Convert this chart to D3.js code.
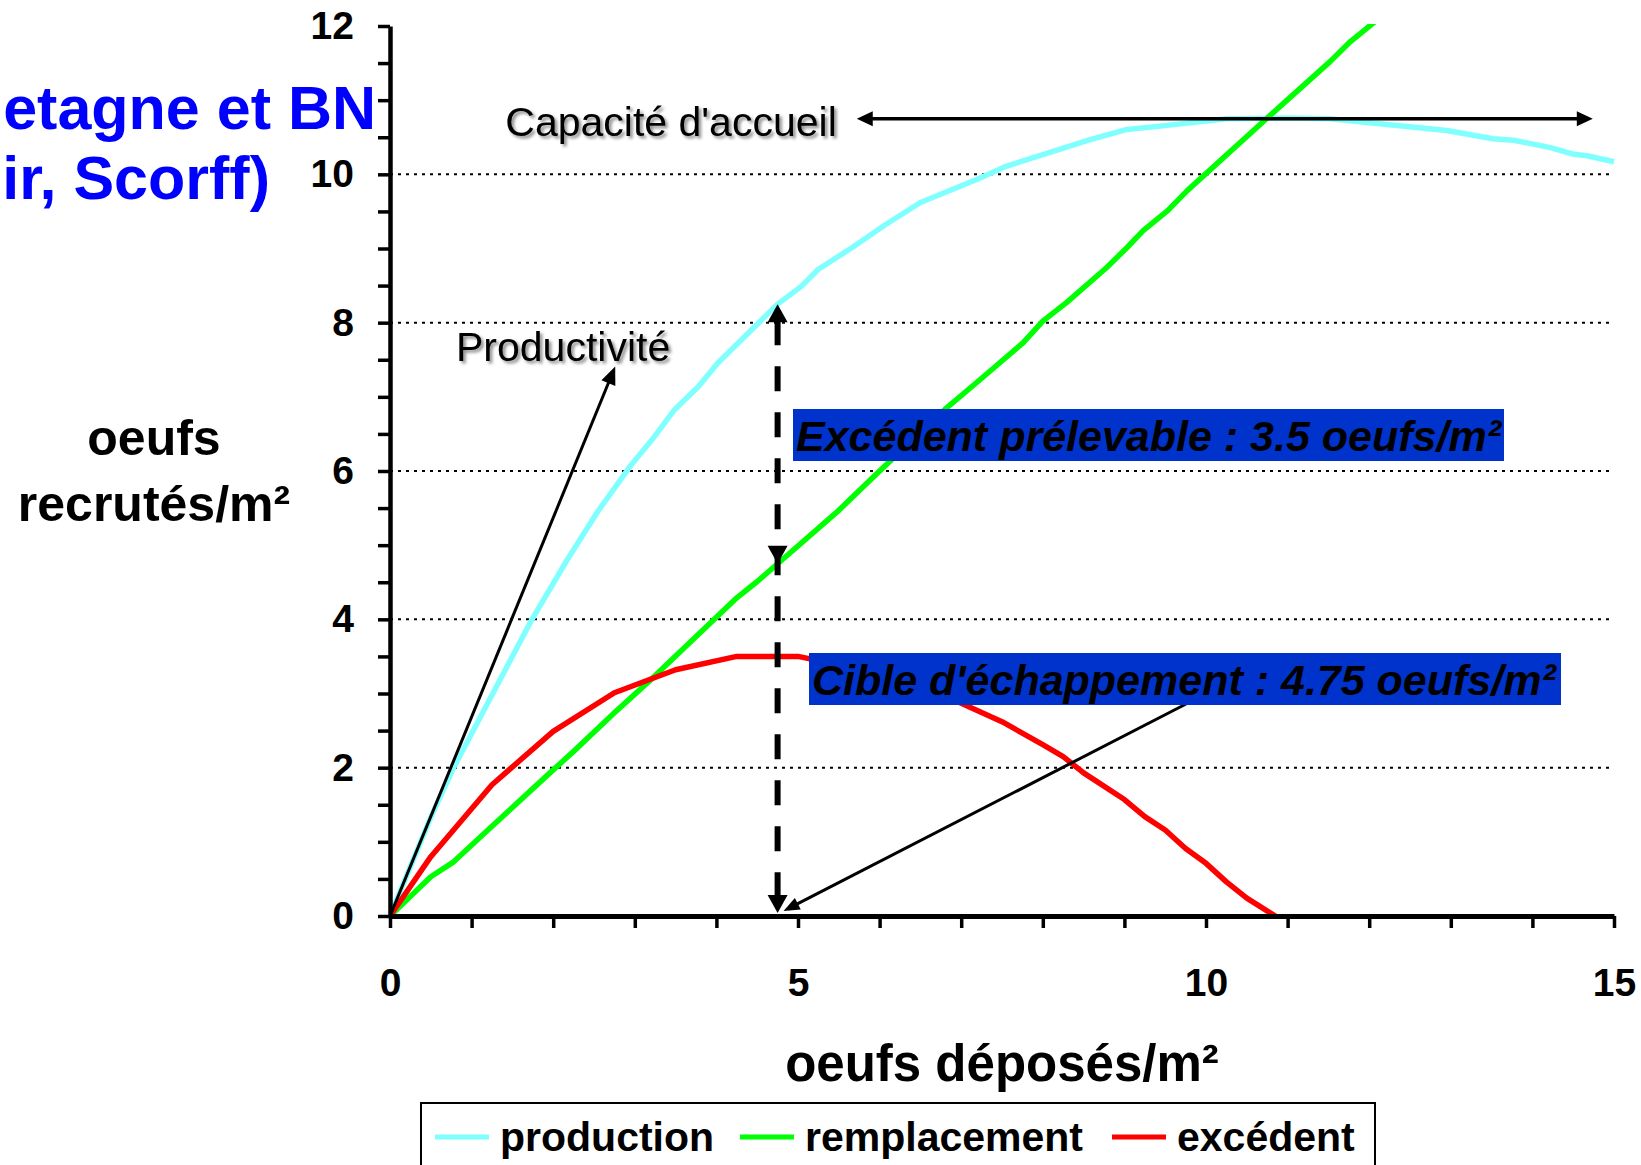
<!DOCTYPE html>
<html>
<head>
<meta charset="utf-8">
<script src="https://cdn.jsdelivr.net/npm/d3@7"></script>
<style>
  body { margin: 0; background: #ffffff; }
  svg { display: block; font-family: "Liberation Sans", Arial, sans-serif; }
</style>
</head>
<body>
<svg id="chart" width="1641" height="1165"></svg>
<script>
// Stock–recruitment curves: eggs recruited per m² against eggs deposited per m²
const productionX = [0, 0.5, 0.78, 1.25, 1.74, 2.17, 2.55, 2.94, 3.21, 3.49, 3.78, 4.02, 4.27, 4.75, 5.04, 5.25, 5.66, 6.07, 6.5, 7.19, 7.53, 8.04, 8.56, 9.01, 9.52, 10.25, 11.0, 11.52, 12.25, 12.95, 13.52, 13.77, 14.22, 14.51, 14.67, 15];
const productionY = [0, 1.33, 2.0, 2.98, 4.0, 4.8, 5.46, 6.06, 6.42, 6.83, 7.14, 7.46, 7.73, 8.25, 8.49, 8.72, 9.01, 9.32, 9.62, 9.93, 10.1, 10.28, 10.46, 10.6, 10.66, 10.75, 10.76, 10.75, 10.67, 10.59, 10.48, 10.46, 10.36, 10.27, 10.25, 10.17];

const remplacementX = [0, 0.5, 0.78, 1.25, 2.0, 2.25, 2.75, 3.17, 4.25, 4.5, 4.75, 5.5, 6.0, 6.8, 7.23, 7.76, 8.0, 8.29, 8.78, 9.03, 9.23, 9.53, 9.77, 10.74, 11.52, 11.77, 12.06, 12.3];
const remplacementY = [0, 0.53, 0.73, 1.21, 1.97, 2.22, 2.74, 3.16, 4.29, 4.51, 4.75, 5.47, 6.0, 6.83, 7.23, 7.73, 8.02, 8.27, 8.74, 9.01, 9.24, 9.51, 9.78, 10.75, 11.52, 11.79, 12.05, 12.3];

const excedentX = [0, 0.5, 1.25, 2.0, 2.75, 3.5, 4.25, 5.0, 5.75, 6.5, 7.0, 7.5, 8.0, 8.25, 8.5, 9.0, 9.25, 9.5, 9.75, 10.0, 10.25, 10.5, 10.85];
const excedentY = [0, 0.8, 1.77, 2.49, 3.01, 3.32, 3.5, 3.5, 3.33, 3.12, 2.87, 2.62, 2.31, 2.15, 1.93, 1.57, 1.34, 1.16, 0.91, 0.71, 0.46, 0.24, 0];

const seriesNames = ["production", "remplacement", "excédent"];
const seriesColors = ["#80ffff", "#00ff00", "#ff0000"];

const xTickLabels = [0, 5, 10, 15];
const yTickLabels = [0, 2, 4, 6, 8, 10, 12];
const gridValues = [2, 4, 6, 8, 10];

// Reference points quoted in the annotations
const cibleEchappement = 4.75;   // escapement target
const excedentPrelevable = 3.5;  // harvestable surplus
const capaciteAccueil = 10.75;   // carrying capacity
const capaciteSpan = [5.72, 14.74];
const productiviteTip = [2.76, 7.41];

const svg = d3.select("#chart");
const W = 1641, H = 1165;
svg.append("rect").attr("width", W).attr("height", H).attr("fill", "#fff");

const defs = svg.append("defs");
const f = defs.append("filter").attr("id", "shadow")
  .attr("x", "-5%").attr("y", "-30%").attr("width", "115%").attr("height", "170%");
f.append("feDropShadow").attr("dx", 2.5).attr("dy", 2.5).attr("stdDeviation", 1.4)
  .attr("flood-color", "#000").attr("flood-opacity", 0.45);

const plot = { left: 390, right: 1614, top: 26, bottom: 916 };
const x = d3.scaleLinear().domain([0, 15]).range([plot.left, plot.right]);
const y = d3.scaleLinear().domain([0, 12]).range([plot.bottom, plot.top]);

defs.append("clipPath").attr("id", "plotClip").append("rect")
  .attr("x", plot.left).attr("y", plot.top - 2)
  .attr("width", plot.right - plot.left + 4).attr("height", plot.bottom - plot.top + 4);

// Title fragment at the left edge
const title = svg.append("g").attr("fill", "#0000ff").attr("font-weight", "bold")
  .attr("font-size", 61).attr("text-anchor", "end");
title.append("text").attr("x", 376).attr("y", 129).text("etagne et BN");
title.append("text").attr("x", 270).attr("y", 199).text("ir, Scorff)");

// Dotted gridlines
svg.append("g").selectAll("line").data(gridValues).join("line")
  .attr("x1", plot.left).attr("x2", plot.right - 4)
  .attr("y1", d => y(d)).attr("y2", d => y(d))
  .attr("stroke", "#000").attr("stroke-width", 2).attr("stroke-dasharray", "3,5");

// Series
const series = [
  { xs: productionX, ys: productionY },
  { xs: remplacementX, ys: remplacementY },
  { xs: excedentX, ys: excedentY }
];
const line = d3.line().x(d => x(d[0])).y(d => y(d[1]));
const gLines = svg.append("g").attr("clip-path", "url(#plotClip)");
series.forEach((s, i) => {
  gLines.append("path")
    .datum(s.xs.map((v, k) => [v, s.ys[k]]))
    .attr("d", line)
    .attr("fill", "none")
    .attr("stroke", seriesColors[i])
    .attr("stroke-width", 5.5)
    .attr("stroke-linejoin", "round");
});

// Axes
const yAxis = d3.axisLeft(y)
  .tickValues(d3.range(0, 12.001, 0.5))
  .tickSize(12).tickSizeOuter(0).tickPadding(24)
  .tickFormat(d => yTickLabels.includes(d) ? d : "");
const gy = svg.append("g").attr("transform", `translate(${plot.left},0)`).call(yAxis);
gy.select(".domain").attr("stroke", "#000").attr("stroke-width", 4.5);
gy.selectAll(".tick line").attr("stroke", "#000").attr("stroke-width", 3.5);
gy.selectAll(".tick text").attr("font-size", 39).attr("font-weight", "bold")
  .attr("font-family", "Liberation Sans, Arial, sans-serif").attr("fill", "#000");

const xAxis = d3.axisBottom(x)
  .tickValues(d3.range(0, 15.001, 1))
  .tickSize(12).tickSizeOuter(0).tickPadding(40)
  .tickFormat(d => xTickLabels.includes(d) ? d : "");
const gx = svg.append("g").attr("transform", `translate(0,${plot.bottom})`).call(xAxis);
gx.select(".domain").attr("stroke", "#000").attr("stroke-width", 5);
gx.selectAll(".tick line").attr("stroke", "#000").attr("stroke-width", 3.5);
gx.selectAll(".tick text").attr("font-size", 39).attr("font-weight", "bold")
  .attr("font-family", "Liberation Sans, Arial, sans-serif").attr("fill", "#000");

// Axis titles
svg.append("text").attr("x", (plot.left + plot.right) / 2).attr("y", 1081)
  .attr("text-anchor", "middle").attr("font-size", 51).attr("font-weight", "bold")
  .text("oeufs déposés/m²");
const yt = svg.append("text").attr("text-anchor", "middle").attr("font-size", 50).attr("font-weight", "bold");
yt.append("tspan").attr("x", 154).attr("y", 455).text("oeufs");
yt.append("tspan").attr("x", 154).attr("y", 521).text("recrutés/m²");

// Arrowhead helper: filled triangle with its tip at (tx, ty), pointing along angle
function head(g, tx, ty, angle, len, wid) {
  const c = Math.cos(angle), s = Math.sin(angle);
  const bx = tx - c * len, by = ty - s * len;
  const px = -s * wid / 2, py = c * wid / 2;
  g.append("path")
    .attr("d", `M${tx},${ty}L${bx + px},${by + py}L${bx - px},${by - py}Z`)
    .attr("fill", "#000");
}
const ann = svg.append("g");

// Carrying capacity: double-headed arrow
{
  const ya = y(capaciteAccueil), x1 = x(capaciteSpan[0]), x2 = x(capaciteSpan[1]);
  ann.append("line").attr("x1", x1 + 10).attr("x2", x2 - 10).attr("y1", ya).attr("y2", ya)
    .attr("stroke", "#000").attr("stroke-width", 3.5);
  head(ann, x1, ya, Math.PI, 16, 15);
  head(ann, x2, ya, 0, 16, 15);
  ann.append("text").attr("x", x1 - 20).attr("y", 136).attr("text-anchor", "end")
    .attr("font-size", 41).attr("filter", "url(#shadow)").text("Capacité d'accueil");
}

// Productivity: slope at the origin
{
  const x0 = x(0), y0 = y(0), tx = x(productiviteTip[0]), ty = y(productiviteTip[1]);
  const a = Math.atan2(ty - y0, tx - x0);
  ann.append("line").attr("x1", x0).attr("y1", y0)
    .attr("x2", tx - Math.cos(a) * 12).attr("y2", ty - Math.sin(a) * 12)
    .attr("stroke", "#000").attr("stroke-width", 3);
  head(ann, tx, ty, a, 18, 15);
  ann.append("text").attr("x", 456).attr("y", 361)
    .attr("font-size", 41).attr("filter", "url(#shadow)").text("Productivité");
}

// Dashed vertical arrows at the escapement target
{
  const xc = x(cibleEchappement);
  const yTop = y(cibleEchappement + excedentPrelevable);
  const yMid = y(cibleEchappement);
  const yBot = y(0);
  ann.append("line").attr("x1", xc).attr("x2", xc)
    .attr("y1", yTop + 16).attr("y2", yBot - 16)
    .attr("stroke", "#000").attr("stroke-width", 6).attr("stroke-dasharray", "25,21");
  head(ann, xc, yTop, -Math.PI / 2, 18, 20);
  head(ann, xc, yMid, Math.PI / 2, 18, 20);
  head(ann, xc, yBot - 3, Math.PI / 2, 18, 20);
}

// Pointer from the escapement label to the x axis
{
  const sx = 1186, sy = 704, tx = x(cibleEchappement) + 6, ty = y(0) - 5;
  const a = Math.atan2(ty - sy, tx - sx);
  ann.append("line").attr("x1", sx).attr("y1", sy)
    .attr("x2", tx - Math.cos(a) * 10).attr("y2", ty - Math.sin(a) * 10)
    .attr("stroke", "#000").attr("stroke-width", 3);
  head(ann, tx, ty, a, 16, 13);
}

// Highlighted value labels
function label(x0, y0, w, h, baseline, txt) {
  const g = svg.append("g");
  g.append("rect").attr("x", x0).attr("y", y0).attr("width", w).attr("height", h).attr("fill", "#0033cc");
  g.append("text").attr("x", x0 + 3).attr("y", baseline)
    .attr("font-size", 43).attr("font-weight", "bold").attr("font-style", "italic")
    .attr("fill", "#000").text(txt);
}
label(793, 409, 711, 52, 451, `Excédent prélevable : ${excedentPrelevable} oeufs/m²`);
label(809, 653, 752, 52, 695, `Cible d'échappement : ${cibleEchappement} oeufs/m²`);

// Legend
{
  const lg = svg.append("g");
  lg.append("rect").attr("x", 421).attr("y", 1103).attr("width", 954).attr("height", 120)
    .attr("fill", "#fff").attr("stroke", "#000").attr("stroke-width", 2);
  const lx = [435, 740, 1112];
  seriesNames.forEach((n, i) => {
    lg.append("line").attr("x1", lx[i]).attr("x2", lx[i] + 54).attr("y1", 1137).attr("y2", 1137)
      .attr("stroke", seriesColors[i]).attr("stroke-width", 5);
    lg.append("text").attr("x", lx[i] + 65).attr("y", 1151)
      .attr("font-size", 41).attr("font-weight", "bold").text(n);
  });
}
</script>
</body>
</html>
